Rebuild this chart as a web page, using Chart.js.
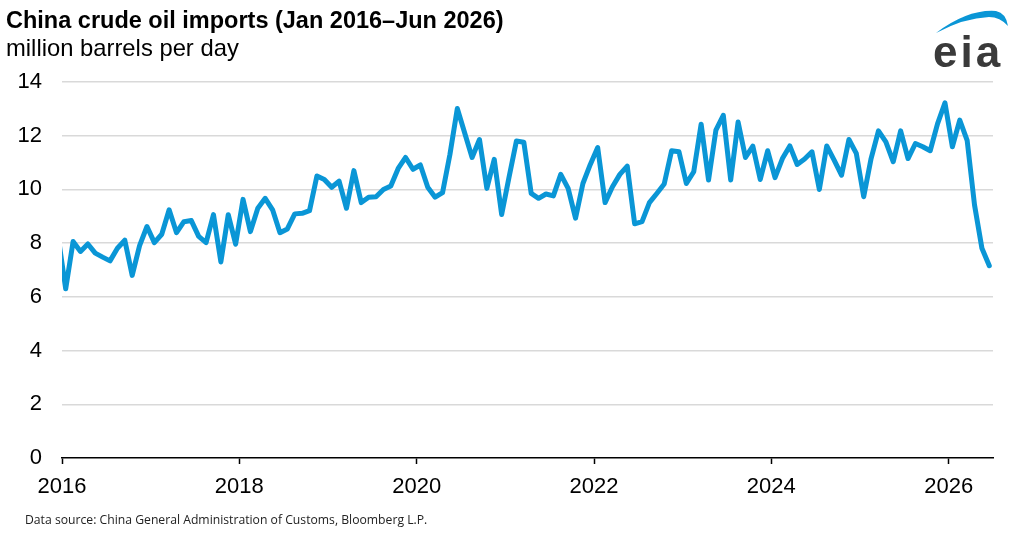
<!DOCTYPE html>
<html>
<head>
<meta charset="utf-8">
<script src="https://cdn.jsdelivr.net/npm/chart.js/dist/chart.umd.min.js"></script>
<style>
  body { margin: 0; background: #fff; }
  .wrap { position: relative; width: 1024px; height: 534px; overflow: hidden; font-family: "Liberation Sans", Arial, sans-serif; }
  .title { position: absolute; left: 6px; top: 9px; font-size: 23.5px; font-weight: bold; line-height: 1; color: #000; white-space: nowrap; }
  .subtitle { position: absolute; left: 6px; top: 36px; font-size: 23.8px; line-height: 1; color: #000; white-space: nowrap; }
  .source { position: absolute; left: 25px; top: 514px; font-family: "Open Sans", sans-serif; font-size: 12.2px; line-height: 1; color: #222; white-space: nowrap; }
  #logo { position: absolute; left: 0; top: 0; }
  canvas { position: absolute; left: 0; top: 0; }
</style>
</head>
<body>
<div class="wrap">
  <canvas id="chart" width="1024" height="534"></canvas>
  <div class="title">China crude oil imports (Jan 2016–Jun 2026)</div>
  <div class="subtitle">million barrels per day</div>
  <div class="source">Data source: China General Administration of Customs, Bloomberg L.P.</div>
  <svg id="logo" width="1024" height="80">
    <path d="M936 33 Q968 9 996 11 Q1006 13 1008 26 Q1000 17 989 17 Q964 18 936 33 Z" fill="#0a96d6"/>
    <text x="933" y="67" font-family="Liberation Sans, Arial, sans-serif" font-size="44" font-weight="bold" letter-spacing="3" fill="#3a3a3a">eia</text>
  </svg>
</div>
<script>
// monthly values, million barrels per day
const startYear = 2016
const leadIn = 8.2 // Dec 2015, only its clipped edge shows at the left axis
const imports = [
  6.30, 8.06, 7.69, 7.97, 7.63, 7.48, 7.34, 7.81, 8.11, 6.80, 7.91, 8.62, // 2016
  8.02, 8.33, 9.24, 8.39, 8.80, 8.84, 8.25, 8.02, 9.06, 7.30, 9.06, 7.96, // 2017
  9.63, 8.43, 9.30, 9.67, 9.24, 8.39, 8.53, 9.09, 9.11, 9.21, 10.50, 10.37, // 2018
  10.08, 10.31, 9.30, 10.70, 9.51, 9.71, 9.73, 10.00, 10.13, 10.78, 11.19, 10.75, // 2019
  10.91, 10.08, 9.71, 9.88, 11.30, 13.01, 12.10, 11.19, 11.86, 10.04, 11.12, 9.07, // 2020
  10.45, 11.80, 11.76, 9.85, 9.67, 9.83, 9.76, 10.56, 10.04, 8.93, 10.22, 10.93, // 2021
  11.56, 9.51, 10.10, 10.56, 10.87, 8.72, 8.80, 9.51, 9.85, 10.20, 11.44, 11.40, // 2022
  10.22, 10.66, 12.43, 10.35, 12.21, 12.76, 10.35, 12.51, 11.19, 11.61, 10.37, 11.44, // 2023
  10.44, 11.15, 11.62, 10.93, 11.13, 11.40, 10.00, 11.62, 11.09, 10.53, 11.86, 11.34, // 2024
  9.73, 11.15, 12.18, 11.77, 11.03, 12.18, 11.15, 11.71, 11.59, 11.44, 12.45, 13.22, // 2025
  11.59, 12.58, 11.83, 9.42, 7.81, 7.16 // 2026
]
const yearTicks = [2016, 2018, 2020, 2022, 2024, 2026]
const yTicks = [0, 2, 4, 6, 8, 10, 12, 14]

// each month sits at its middle, x in fractional years
const points = [{ x: startYear - 0.5 / 12, y: leadIn }]
imports.forEach((v, i) => points.push({ x: startYear + (i + 0.5) / 12, y: v }))

const tickFont = { family: "'Liberation Sans', Arial, sans-serif", size: 22 }

new Chart(document.getElementById('chart'), {
  type: 'line',
  data: {
    datasets: [{
      data: points,
      borderColor: '#0a96d6',
      borderWidth: 5,
      borderJoinStyle: 'round',
      borderCapStyle: 'round',
      pointRadius: 0,
      tension: 0,
      clip: { left: 0, top: false, right: false, bottom: false }
    }]
  },
  options: {
    responsive: false,
    animation: false,
    devicePixelRatio: 1,
    layout: { padding: { top: 82, right: 31, left: 0, bottom: 0 } },
    plugins: { legend: { display: false }, tooltip: { enabled: false } },
    scales: {
      x: {
        type: 'linear',
        min: startYear,
        max: 2026.5,
        afterBuildTicks: s => { s.ticks = yearTicks.map(v => ({ value: v })) },
        afterFit: s => { s.height = 534 - 458 },
        ticks: { font: tickFont, color: '#000', padding: 10, maxRotation: 0, autoSkip: false, callback: v => String(v) },
        grid: { drawOnChartArea: false, drawTicks: true, tickLength: 6, tickColor: '#000', tickWidth: 1.5 },
        border: { display: true, color: '#000', width: 1.5 }
      },
      y: {
        min: 0,
        max: 14,
        afterBuildTicks: s => { s.ticks = yTicks.map(v => ({ value: v })) },
        afterFit: s => { s.width = 62 },
        ticks: { font: tickFont, color: '#000', padding: 20 },
        grid: { color: c => c.tick && c.tick.value === 0 ? 'rgba(0,0,0,0)' : '#d9d9d9', lineWidth: 1.5, drawTicks: false },
        border: { display: false }
      }
    }
  }
})
</script>
</body>
</html>
